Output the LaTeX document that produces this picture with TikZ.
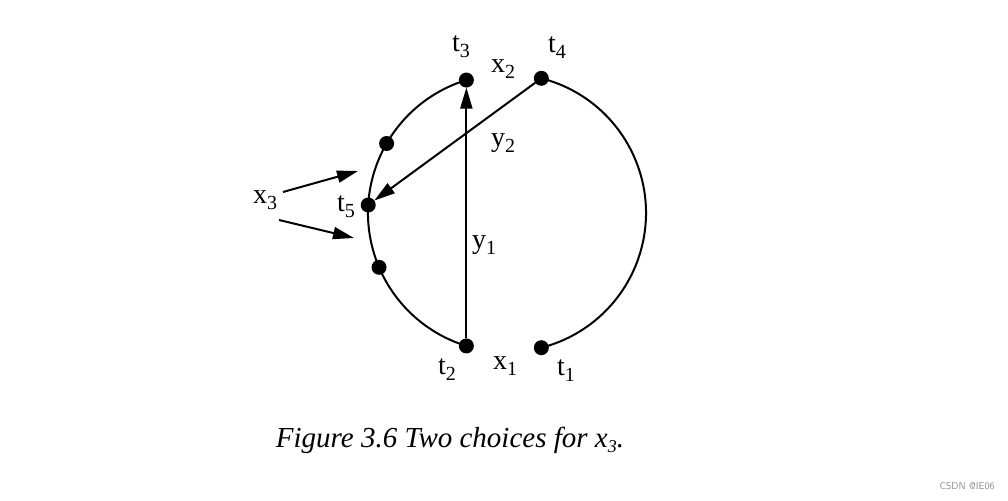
\documentclass[tikz,border=0pt]{standalone}
\usepackage{fontspec}
\setmainfont{Liberation Serif}
\usetikzlibrary{arrows.meta}
\newcommand{\lsub}[1]{\raisebox{-6pt}{\fontsize{20}{22}\selectfont #1}}
\begin{document}
\begin{tikzpicture}[x=1pt,y=1pt,
  dot/.style={circle,fill=black,inner sep=0pt,minimum size=15pt,outer sep=0pt},
  lbl/.style={inner sep=0pt,font=\fontsize{28}{30}\selectfont},
  edge/.style={line width=2pt},
  arr/.style={edge,-{Triangle[length=21pt,width=12pt]}}]
\useasboundingbox (0,0) rectangle (1008,500);
\coordinate (c) at (507,287);
% dots
\node[dot] (t3) at ([shift={(107:139)}]c) {};
\node[dot] (t4) at ([shift={(75.7:139)}]c) {};
\node[dot] (ul) at ([shift={(150:139)}]c) {};
\node[dot] (t5) at ([shift={(176.7:139)}]c) {};
\node[dot] (ll) at ([shift={(203:139)}]c) {};
\node[dot] (t2) at ([shift={(253:139)}]c) {};
\node[dot] (t1) at ([shift={(-75.7:139)}]c) {};
% arcs
\draw[edge] (t3.center) arc[start angle=107, end angle=253, radius=139];
\draw[edge] (t4.center) arc[start angle=75.7, end angle=-75.7, radius=139];
% connectors
\draw[arr] (t2) -- (t3);
\draw[arr] (t4) -- (t5);
\coordinate (a1s) at (283,308);
\coordinate (a1e) at (358,329);
\coordinate (a2s) at (279,280);
\coordinate (a2e) at (354,262);
\draw[arr] (a1s) -- (a1e);
\draw[arr] (a2s) -- (a2e);
% labels
\node[lbl] (lt3) at (461,453) {t\lsub{3}};
\node[lbl] (lx2) at (503,431) {x\lsub{2}};
\node[lbl] (lt4) at (557,452) {t\lsub{4}};
\node[lbl] (ly2) at (503,357) {y\lsub{2}};
\node[lbl] (lx3) at (265,300) {x\lsub{3}};
\node[lbl] (lt5) at (346,293) {t\lsub{5}};
\node[lbl] (ly1) at (484,255) {y\lsub{1}};
\node[lbl] (lt2) at (447,130) {t\lsub{2}};
\node[lbl] (lx1) at (505,134) {x\lsub{1}};
\node[lbl] (lt1) at (566,129) {t\lsub{1}};
\node[lbl,font=\fontsize{29}{32}\selectfont\itshape] (cap) at (450,60) {Figure 3.6 Two choices for x\raisebox{-5pt}{\fontsize{18}{20}\selectfont 3}.};
\node[inner sep=0pt,text=black!45,font=\sffamily\fontsize{10}{12}\selectfont] (wm) at (967,14) {CSDN @IE06};
\end{tikzpicture}
\end{document}
